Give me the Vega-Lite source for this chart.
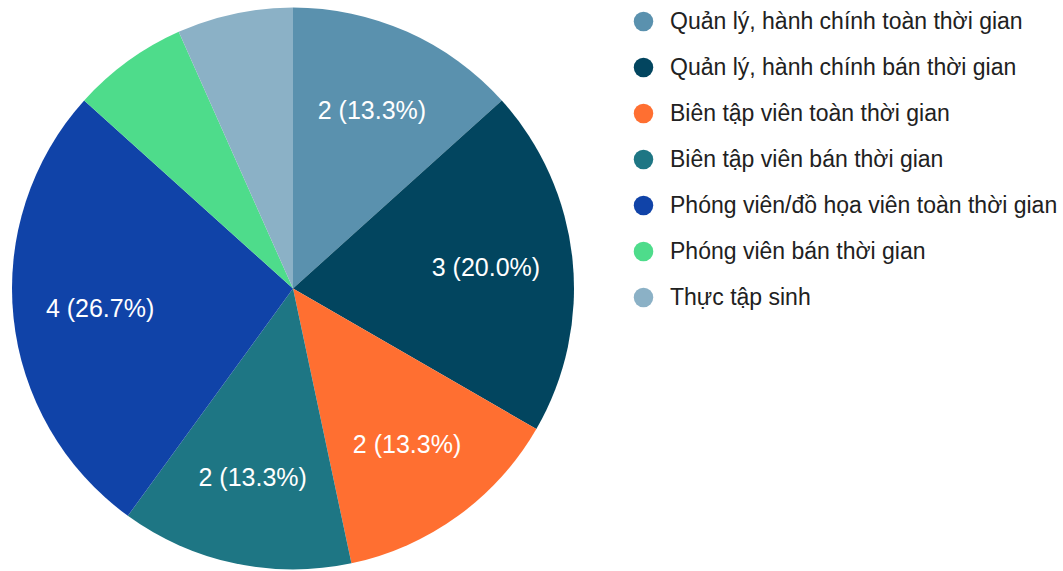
{
  "$schema": "https://vega.github.io/schema/vega-lite/v6.json",
  "width": 586,
  "height": 571,
  "padding": {"left": 0, "top": 0, "right": 477, "bottom": 0},
  "autosize": {"type": "none"},
  "background": "white",
  "data": {
    "values": [
      {"idx": 1, "category": "Quản lý, hành chính toàn thời gian", "count": 2, "label": "2 (13.3%)"},
      {"idx": 2, "category": "Quản lý, hành chính bán thời gian", "count": 3, "label": "3 (20.0%)"},
      {"idx": 3, "category": "Biên tập viên toàn thời gian", "count": 2, "label": "2 (13.3%)"},
      {"idx": 4, "category": "Biên tập viên bán thời gian", "count": 2, "label": "2 (13.3%)"},
      {"idx": 5, "category": "Phóng viên/đồ họa viên toàn thời gian", "count": 4, "label": "4 (26.7%)"},
      {"idx": 6, "category": "Phóng viên bán thời gian", "count": 1, "label": ""},
      {"idx": 7, "category": "Thực tập sinh", "count": 1, "label": ""}
    ]
  },
  "encoding": {
    "theta": {"field": "count", "type": "quantitative", "stack": true},
    "order": {"field": "idx", "type": "quantitative"}
  },
  "layer": [
    {
      "mark": {"type": "arc", "outerRadius": 281, "yOffset": 3},
      "encoding": {
        "color": {
          "field": "category",
          "type": "nominal",
          "sort": null,
          "scale": {
            "domain": [
              "Quản lý, hành chính toàn thời gian",
              "Quản lý, hành chính bán thời gian",
              "Biên tập viên toàn thời gian",
              "Biên tập viên bán thời gian",
              "Phóng viên/đồ họa viên toàn thời gian",
              "Phóng viên bán thời gian",
              "Thực tập sinh"
            ],
            "range": ["#5a91ae", "#02455f", "#ff6f31", "#1e7684", "#1043a8", "#4edc8b", "#8bb1c6"]
          },
          "legend": {
            "title": null,
            "orient": "none",
            "legendX": 632,
            "legendY": 10,
            "symbolType": "circle",
            "symbolSize": 380,
            "symbolStrokeWidth": 0,
            "labelFont": "Liberation Sans",
            "labelFontSize": 23,
            "labelColor": "#212121",
            "labelOffset": 15,
            "rowPadding": 22,
            "labelLimit": 500,
            "padding": 0
          }
        }
      }
    },
    {
      "mark": {"type": "text", "radius": 194, "yOffset": 3, "fontSize": 25, "font": "Liberation Sans"},
      "encoding": {
        "text": {"field": "label", "type": "nominal"},
        "color": {"value": "#ffffff"}
      }
    }
  ],
  "config": {"view": {"stroke": null}}
}
